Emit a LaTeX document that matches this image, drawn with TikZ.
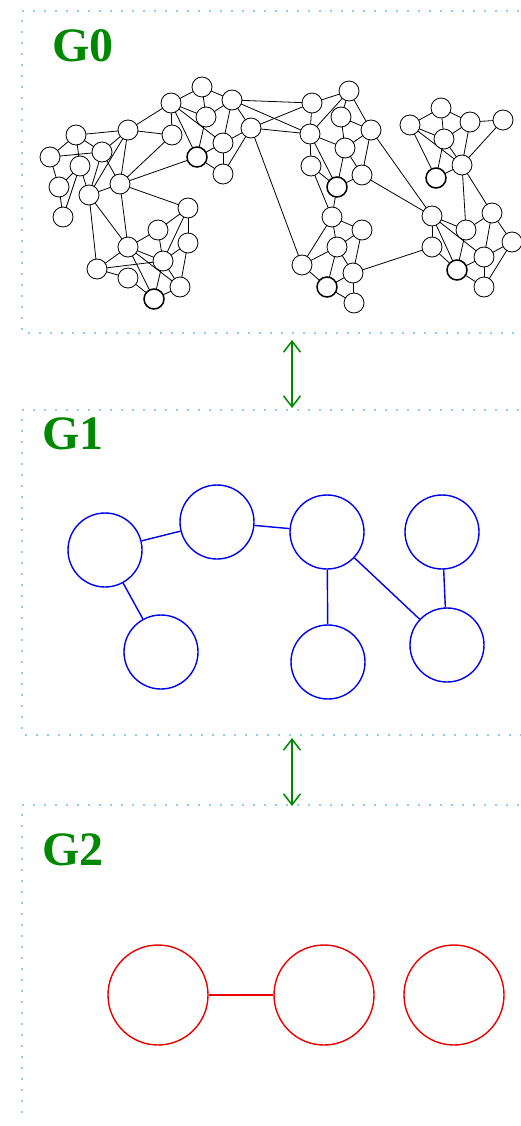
\documentclass[tikz,border=0pt]{standalone}
\usepackage{fontspec}
\setmainfont{Liberation Serif}
\usetikzlibrary{arrows.meta}
\definecolor{framedot}{RGB}{135,206,250}
\definecolor{lvlgreen}{RGB}{0,136,0}
\definecolor{lvlblue}{RGB}{0,0,240}
\definecolor{lvlred}{RGB}{235,0,0}
\begin{document}
\begin{tikzpicture}[x=1pt,y=-1pt,
  frame/.style={draw=framedot,line width=1.8pt,dash pattern=on 1.8pt off 9.2pt},
  lvl/.style={text=lvlgreen,font=\fontsize{48}{48}\selectfont\bfseries,anchor=base west,inner sep=0pt},
  gnode/.style={circle,draw=black,fill=white,line width=0.8pt,minimum size=20pt,inner sep=0pt},
  hnode/.style={gnode,line width=1.5pt},
  gedge/.style={draw=black,line width=0.8pt},
  bnode/.style={circle,draw=lvlblue,line width=1.4pt,minimum size=74pt,inner sep=0pt},
  bedge/.style={draw=lvlblue,line width=1.4pt},
  rnode/.style={circle,draw=lvlred,line width=1.4pt,minimum size=100pt,inner sep=0pt},
  redge/.style={draw=lvlred,line width=1.4pt},
  link/.style={draw=lvlgreen,line width=1.5pt,{Straight Barb[length=11pt,width=17pt]}-{Straight Barb[length=11pt,width=17pt]}}
]
\useasboundingbox (0,0) rectangle (521,1126);

% level frames (open to the right)
\draw[frame] (530,11) -- (22,11) -- (22,333) -- (530,333);
\draw[frame] (530,410) -- (22,410) -- (22,735) -- (530,735);
\draw[frame] (530,805) -- (22,805) -- (22,1118);

% level labels
\node[lvl] (lab0) at (52,62) {G0};
\node[lvl] (lab1) at (42,449) {G1};
\node[lvl] (lab2) at (42,865) {G2};

% links between levels
\coordinate (a0) at (292,340);
\coordinate (a1) at (292,408);
\coordinate (b0) at (292,738);
\coordinate (b1) at (292,806);
\draw[link] (a0) -- (a1);
\draw[link] (b0) -- (b1);

% ---- G0: fine graph ----
\foreach \i/\x/\y in {
  1/50/157, 2/76/135, 3/102/152, 4/80/166, 5/59/187, 6/89/195, 7/63/217, 8/120/184, 9/128/130,
  10/188/208, 11/158/230, 12/188/243, 13/128/247, 14/163/261, 15/97/269, 16/128/278, 17/180/287,
  19/171/103, 20/202/87, 21/232/100, 22/206/117, 23/172/135, 24/251/128, 25/223/143, 27/223/174,
  28/349/91, 29/312/103, 30/341/117, 31/371/130, 32/310/134, 33/345/148, 34/311/166, 36/362/175,
  37/332/217, 38/362/230, 39/337/247, 40/302/265, 41/353/273, 43/354/303,
  44/441/108, 45/410/125, 46/470/122, 47/503/120, 48/444/139, 49/462/165,
  51/432/216, 52/492/213, 53/466/230, 54/432/247, 55/512/242, 56/484/257, 58/484/287}
  \coordinate (p\i) at (\x,\y);
\foreach \i/\x/\y in {18/154/299, 26/197/157, 35/337/187, 42/327/287, 50/436/178, 57/457/270}
  \coordinate (p\i) at (\x,\y);

\foreach \a/\b in {
  1/2, 1/3, 2/3, 2/4, 2/9, 1/5, 4/5, 3/9, 3/6, 3/8, 4/6, 4/7, 5/7, 9/6, 9/8, 6/8,
  8/26, 8/10, 8/13, 6/15, 6/13, 9/19, 9/23, 23/8,
  10/11, 10/12, 10/14, 11/13, 11/14, 12/14, 12/17, 13/15, 15/14, 13/14, 13/18, 13/17,
  15/16, 16/18, 14/18, 14/17, 17/18,
  19/20, 20/21, 20/22, 19/22, 19/23, 19/26, 19/25, 22/21, 22/26, 21/25, 21/24, 24/25,
  24/27, 25/26, 25/27, 26/27, 21/29, 24/29, 21/32, 24/32, 24/40,
  29/28, 29/32, 28/32, 28/30, 28/31, 30/31, 30/33, 32/33, 31/33, 31/36, 31/51, 32/34,
  32/35, 33/35, 33/36, 35/36, 34/37, 34/35, 35/37, 36/51, 37/38, 37/39, 37/40, 38/39,
  38/41, 39/40, 39/42, 39/41, 40/42, 41/42, 41/43, 42/43, 41/54,
  45/44, 44/46, 46/47, 45/48, 44/48, 48/46, 45/50, 45/49, 48/49, 48/50, 46/49, 47/49,
  50/49, 49/53, 49/52, 51/53, 51/54, 51/57, 51/56, 52/53, 52/56, 52/55, 53/57, 54/57,
  56/57, 56/58, 57/58, 55/58, 55/56}
  \path[gedge] (p\a) -- (p\b);

\foreach \i in {1,...,17,19,20,21,22,23,24,25,27,28,29,30,31,32,33,34,36,37,38,39,40,41,43,
  44,45,46,47,48,49,51,52,53,54,55,56,58}
  \node[gnode] (n\i) at (p\i) {};
\foreach \i in {18,26,35,42,50,57}
  \node[hnode] (n\i) at (p\i) {};

% ---- G1: first coarsening ----
\node[bnode] (c1) at (105,550) {};
\node[bnode] (c2) at (217,522) {};
\node[bnode] (c3) at (327,532) {};
\node[bnode] (c4) at (442,532) {};
\node[bnode] (c5) at (161,652) {};
\node[bnode] (c6) at (328,662) {};
\node[bnode] (c7) at (447,645) {};
\draw[bedge] (c1) -- (c2);
\draw[bedge] (c2) -- (c3);
\draw[bedge] (c1) -- (c5);
\draw[bedge] (c3) -- (c6);
\draw[bedge] (c3) -- (c7);
\draw[bedge] (c4) -- (c7);

% ---- G2: second coarsening ----
\node[rnode] (d1) at (158,995) {};
\node[rnode] (d2) at (324,995) {};
\node[rnode] (d3) at (454,995) {};
\draw[redge] (d1) -- (d2);
\end{tikzpicture}
\end{document}
